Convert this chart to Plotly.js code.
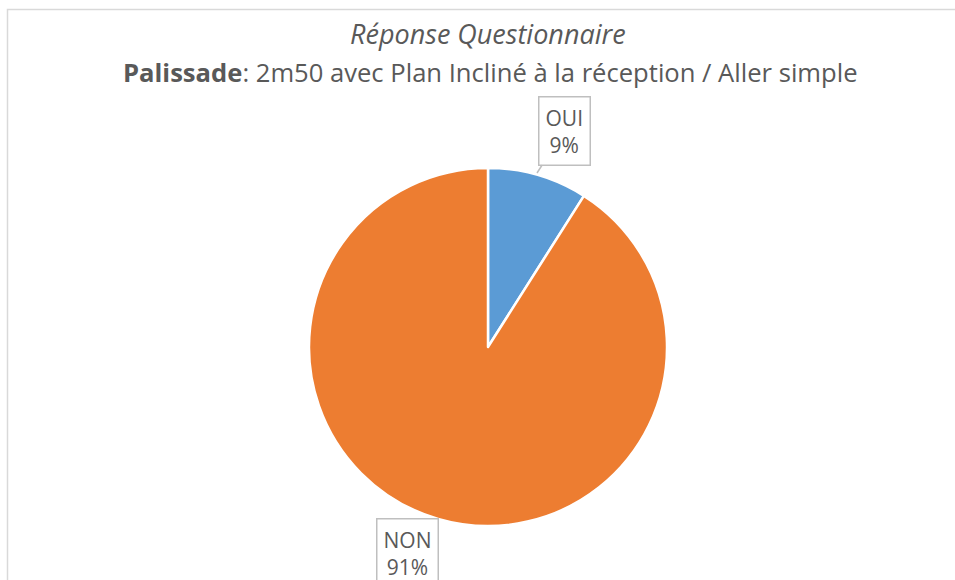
<!DOCTYPE html>
<html>
<head>
<meta charset="utf-8">
<script src="https://cdn.plot.ly/plotly-3.0.1.min.js"></script>
<style>html,body{margin:0;padding:0;background:#fff;}#chart{width:955px;height:580px;}</style>
</head>
<body>
<div id="chart"></div>
<script>
const categories = ["OUI", "NON"];
const values = [9, 91];
const colors = ["#5B9BD5", "#ED7D31"];
const titleLine1 = "Réponse Questionnaire";
const titleLine2Bold = "Palissade";
const titleLine2Rest = ": 2m50 avec Plan Incliné à la réception / Aller simple";

const W = 955, H = 580;
const px = v => v / W;
const py = v => 1 - v / H;
const total = values.reduce((a, b) => a + b, 0);
const pct = values.map(v => Math.round(v / total * 100) + "%");
const FONT = "Open Sans, Noto Sans, sans-serif";
const TXT = "#595959";

const trace = {
  type: "pie",
  labels: categories,
  values: values,
  sort: false,
  direction: "clockwise",
  rotation: 0,
  marker: { colors: colors, line: { color: "#ffffff", width: 2.5 } },
  textinfo: "none",
  hoverinfo: "label+percent",
  showlegend: false,
  domain: { x: [px(309), px(667)], y: [py(526), py(168)] }
};

const layout = {
  width: W, height: H,
  margin: { l: 0, r: 0, t: 0, b: 0 },
  paper_bgcolor: "#ffffff",
  showlegend: false,
  shapes: [
    { type: "rect", xref: "paper", yref: "paper",
      x0: px(7.5), x1: px(970), y0: py(600), y1: py(9.5),
      line: { color: "#d9d9d9", width: 1.5 }, fillcolor: "rgba(0,0,0,0)" }
  ],
  annotations: [
    { xref: "paper", yref: "paper", x: px(488), y: py(33), xanchor: "center", yanchor: "middle",
      text: "<i>" + titleLine1 + "</i>", showarrow: false,
      font: { family: FONT, size: 27, color: TXT } },
    { xref: "paper", yref: "paper", x: px(490), y: py(72), xanchor: "center", yanchor: "middle",
      text: "<b>" + titleLine2Bold + "</b>" + titleLine2Rest, showarrow: false,
      font: { family: FONT, size: 25.6, color: TXT } },
    { xref: "paper", yref: "paper", x: px(537), y: py(173),
      text: categories[0] + "<br>" + pct[0], align: "center",
      font: { family: FONT, size: 21, color: TXT },
      bordercolor: "#bfbfbf", borderwidth: 1.5, borderpad: 6, bgcolor: "#ffffff",
      showarrow: true, arrowhead: 0, arrowwidth: 1.5, arrowcolor: "#bfbfbf",
      ax: px(564), ay: py(131), axref: "paper", ayref: "paper" },
    { xref: "paper", yref: "paper", x: px(407.5), y: py(553), xanchor: "center", yanchor: "middle",
      text: categories[1] + "<br>" + pct[1], align: "center",
      font: { family: FONT, size: 21, color: TXT },
      bordercolor: "#bfbfbf", borderwidth: 1.5, borderpad: 6, bgcolor: "#ffffff",
      showarrow: false }
  ]
};

Plotly.newPlot("chart", [trace], layout, { displayModeBar: false, staticPlot: true });
</script>
</body>
</html>
